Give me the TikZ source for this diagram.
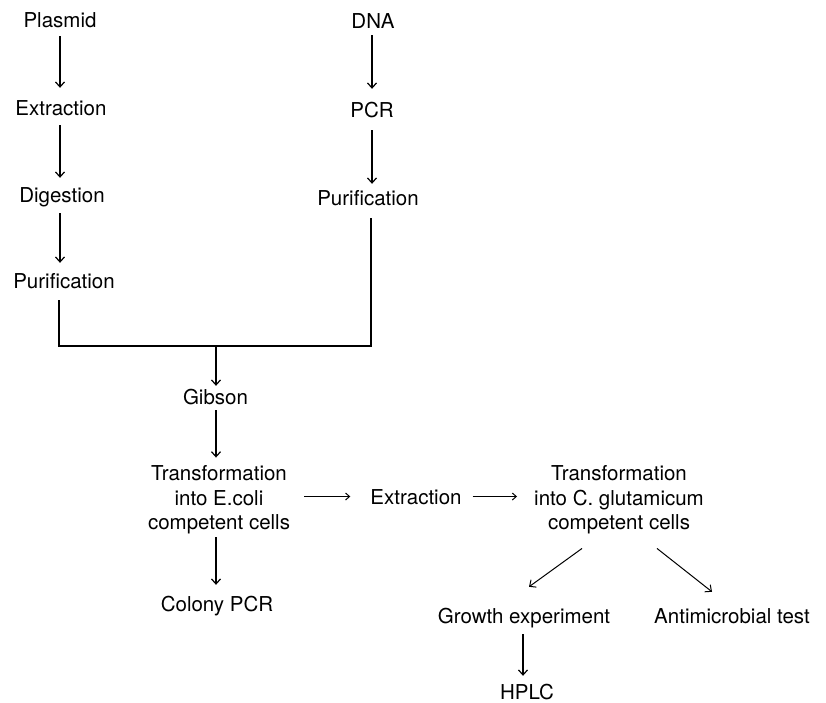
\documentclass[tikz,border=0pt]{standalone}
\usepackage{fontspec}
\setmainfont{TeX Gyre Heros}
\usetikzlibrary{arrows.meta,calc}
\begin{document}
\begin{tikzpicture}[x=1pt,y=-1pt,
  lbl/.style={font=\fontsize{20.5}{24.5}\selectfont, inner sep=0pt, text height=15pt, text depth=0pt, anchor=base},
  ml/.style={font=\fontsize{20.5}{24.5}\selectfont, inner sep=0pt, align=center},
  arr/.style={line width=1.2pt, -{Straight Barb[length=5pt,width=9pt]}},
  harr/.style={line width=1pt, -{Straight Barb[length=4pt,width=7pt]}},
  ln/.style={line width=1.2pt}]
\useasboundingbox (0,0) rectangle (826,702);

\node[lbl] (plasmid) at (60,27) {Plasmid};
\node[lbl] (extrL) at (61,115) {Extraction};
\node[lbl] (dig) at (62,202) {Digestion};
\node[lbl] (purL) at (64,288) {Purification};
\node[lbl] (dna) at (373,28) {DNA};
\node[lbl] (pcr) at (372,117) {PCR};
\node[lbl] (purR) at (368,205) {Purification};
\node[lbl] (gibson) at (215.5,404) {Gibson};
\node[ml] (trE) at (219,500) {Transformation\\into E.coli\\competent cells};
\node[lbl] (colony) at (217,611) {Colony PCR};
\node[lbl] (extrM) at (416,504) {Extraction};
\node[ml] (trC) at (619,500) {Transformation\\into C. glutamicum\\competent cells};
\node[lbl] (growth) at (524,623) {Growth experiment};
\node[lbl] (anti) at (732,623) {Antimicrobial test};
\node[lbl] (hplc) at (527,699) {HPLC};

\coordinate (cL) at (60,0);
\coordinate (cR) at (372,0);
\coordinate (cM) at (216,0);
\coordinate (cG) at (523,0);
\coordinate (jL) at (59,346);
\coordinate (jR) at (371,346);
\coordinate (jM) at (216,346);

% left column
\draw[arr, shorten <=9pt, shorten >=12pt] (cL |- plasmid.south) -- (cL |- extrL.north);
\draw[arr, shorten <=10pt, shorten >=9pt] (cL |- extrL.south) -- (cL |- dig.north);
\draw[arr, shorten <=11pt, shorten >=10pt] (cL |- dig.south) -- (cL |- purL.north);
% right column
\draw[arr, shorten <=7pt, shorten >=13pt] (cR |- dna.south) -- (cR |- pcr.north);
\draw[arr, shorten <=13pt, shorten >=6pt] (cR |- pcr.south) -- (cR |- purR.north);
% merge
\draw[ln, shorten <=12pt, shorten >=13pt] (jL |- purL.south) -- (jL) -- (jR) -- (jR |- purR.south);
\draw[arr, shorten >=3pt] (jM) -- (cM |- gibson.north);
\draw[arr, shorten <=6pt, shorten >=8pt] (cM |- gibson.south) -- (cM |- trE.north);
\draw[arr, shorten <=3pt, shorten >=11pt] (cM |- trE.south) -- (cM |- colony.north);
% horizontal chain
\draw[harr, shorten <=14pt, shorten >=20pt] (trE.east |- extrM.center) -- (extrM.west);
\draw[harr, shorten <=11pt, shorten >=17pt] (extrM.east) -- (extrM.east -| trC.west);
% diagonals
\draw[arr, line width=1pt] ($(trC.south)+(-37,14)$) -- ($(growth.north)+(5,-21)$);
\draw[arr, line width=1pt] ($(trC.south)+(38,14)$) -- ($(anti.north)+(-20,-16)$);
\draw[arr, shorten <=11pt, shorten >=8pt] (cG |- growth.south) -- (cG |- hplc.north);
\end{tikzpicture}
\end{document}
